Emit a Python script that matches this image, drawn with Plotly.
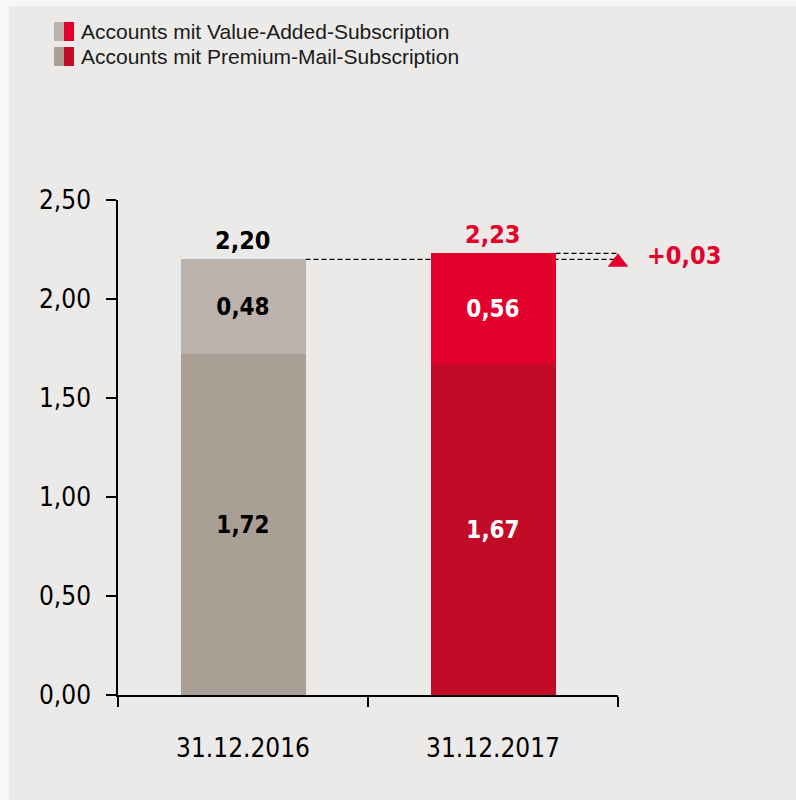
import plotly.graph_objects as go

categories = ["31.12.2016", "31.12.2017"]
premium_mail = [1.72, 1.67]
value_added = [0.48, 0.56]
totals = [2.20, 2.23]
delta_label = "+0,03"
y_ticks = [0.0, 0.5, 1.0, 1.5, 2.0, 2.5]
legend_labels = ["Accounts mit Value-Added-Subscription", "Accounts mit Premium-Mail-Subscription"]

GRAY_TOP, GRAY_BOT = "#BCB4AC", "#A99F95"
RED_TOP, RED_BOT = "#E2002C", "#C20B27"
BG = "#ECEAE8"
FRAME = "#F7F7F8"
NARROW = "Liberation Sans Narrow, Arial Narrow, DejaVu Sans Condensed, sans-serif"


def fmt(v):
    return f"{v:.2f}".replace(".", ",")


W, H = 796, 800
L, R, T, B = 118, 618, 200, 695


def px_x(p):
    return (p - L) / (R - L)


def px_y(p):
    return (B - p) / (B - T)


xs = list(range(len(categories)))
fig = go.Figure()
fig.add_trace(go.Bar(
    x=xs, y=premium_mail, width=0.5,
    marker=dict(color=[GRAY_BOT, RED_BOT], line=dict(width=0)),
    text=[fmt(v) for v in premium_mail], textposition="inside",
    insidetextanchor="middle",
    textfont=dict(family=NARROW, size=24, color=["black", "white"], weight="bold"),
    showlegend=False, hoverinfo="skip",
))
fig.add_trace(go.Bar(
    x=xs, y=value_added, width=0.5,
    marker=dict(color=[GRAY_TOP, RED_TOP], line=dict(width=0)),
    text=[fmt(v) for v in value_added], textposition="inside",
    insidetextanchor="middle",
    textfont=dict(family=NARROW, size=24, color=["black", "white"], weight="bold"),
    showlegend=False, hoverinfo="skip",
))
# triangle marker for change
fig.add_trace(go.Scatter(
    x=[1.5], y=[totals[0] - 0.015], mode="markers",
    marker=dict(symbol="triangle-up", size=18, color=RED_TOP),
    showlegend=False, hoverinfo="skip", cliponaxis=False,
))

# totals
total_colors = ["black", RED_TOP]
for i, t in enumerate(totals):
    fig.add_annotation(x=xs[i], y=t, text=fmt(t), showarrow=False,
                       yanchor="bottom", yshift=2,
                       font=dict(family=NARROW, size=25, color=total_colors[i], weight="bold"))
fig.add_annotation(xref="paper", x=px_x(684), y=(totals[0] + totals[1]) / 2, text=delta_label,
                   showarrow=False, xanchor="center", yanchor="middle", yshift=1,
                   font=dict(family=NARROW, size=25, color=RED_TOP, weight="bold"))

# dashed reference lines
fig.add_shape(type="line", x0=0.25, x1=1.54, y0=totals[0], y1=totals[0],
              line=dict(color="black", width=1.3, dash="5px,3px"), layer="below")
fig.add_shape(type="line", x0=1.25, x1=1.54, y0=totals[1], y1=totals[1],
              line=dict(color="black", width=1.3, dash="5px,3px"), layer="below")

# custom two-colour legend
leg_rows = [(22, 41, GRAY_TOP, RED_TOP), (47, 66, GRAY_BOT, RED_BOT)]
for (y0, y1, c1, c2), label in zip(leg_rows, legend_labels):
    fig.add_shape(type="rect", xref="paper", yref="paper",
                  x0=px_x(54), x1=px_x(64), y0=px_y(y1), y1=px_y(y0),
                  fillcolor=c1, line=dict(width=0))
    fig.add_shape(type="rect", xref="paper", yref="paper",
                  x0=px_x(64), x1=px_x(74), y0=px_y(y1), y1=px_y(y0),
                  fillcolor=c2, line=dict(width=0))
    fig.add_annotation(xref="paper", yref="paper", x=px_x(79), y=px_y((y0 + y1) / 2),
                       text=label, showarrow=False, xanchor="left", yanchor="middle",
                       font=dict(family="Liberation Sans, Arial, sans-serif", size=21, color="#1a1a1a"))

# thin light frame at top / left edge
fig.add_shape(type="rect", xref="paper", yref="paper",
              x0=px_x(0), x1=px_x(W), y0=px_y(6), y1=px_y(0),
              fillcolor=FRAME, line=dict(width=0), layer="above")
fig.add_shape(type="rect", xref="paper", yref="paper",
              x0=px_x(0), x1=px_x(9), y0=px_y(H), y1=px_y(0),
              fillcolor=FRAME, line=dict(width=0), layer="above")

fig.update_layout(
    width=W, height=H,
    margin=dict(l=L, r=W - R, t=T, b=H - B, pad=0),
    paper_bgcolor=BG, plot_bgcolor=BG,
    barmode="stack", bargap=0.5,
    showlegend=False,
    xaxis=dict(
        range=[-0.5, 1.5], tickvals=xs, ticktext=categories, ticks="",
        showline=True, linecolor="black", linewidth=1.5,
        showgrid=False, zeroline=False, fixedrange=True,
        tickfont=dict(family=NARROW, size=26, color="black"),
        ticklabelstandoff=29,
        minor=dict(tickvals=[-0.5, 0.5, 1.5], ticks="outside", ticklen=10,
                   tickcolor="black", tickwidth=1.5, showgrid=False),
    ),
    yaxis=dict(
        range=[0, 2.5], tickvals=y_ticks, ticktext=[fmt(v) for v in y_ticks],
        ticks="outside", ticklen=10, tickcolor="black", tickwidth=1.5,
        showline=True, linecolor="black", linewidth=1.5,
        showgrid=False, zeroline=False, fixedrange=True,
        tickfont=dict(family=NARROW, size=26, color="black"),
        ticklabelstandoff=10,
    ),
)

fig.write_html(
    "out.html",
    config={"displayModeBar": False},
    post_script="document.body.style.margin='0';document.body.style.overflow='hidden';",
)
